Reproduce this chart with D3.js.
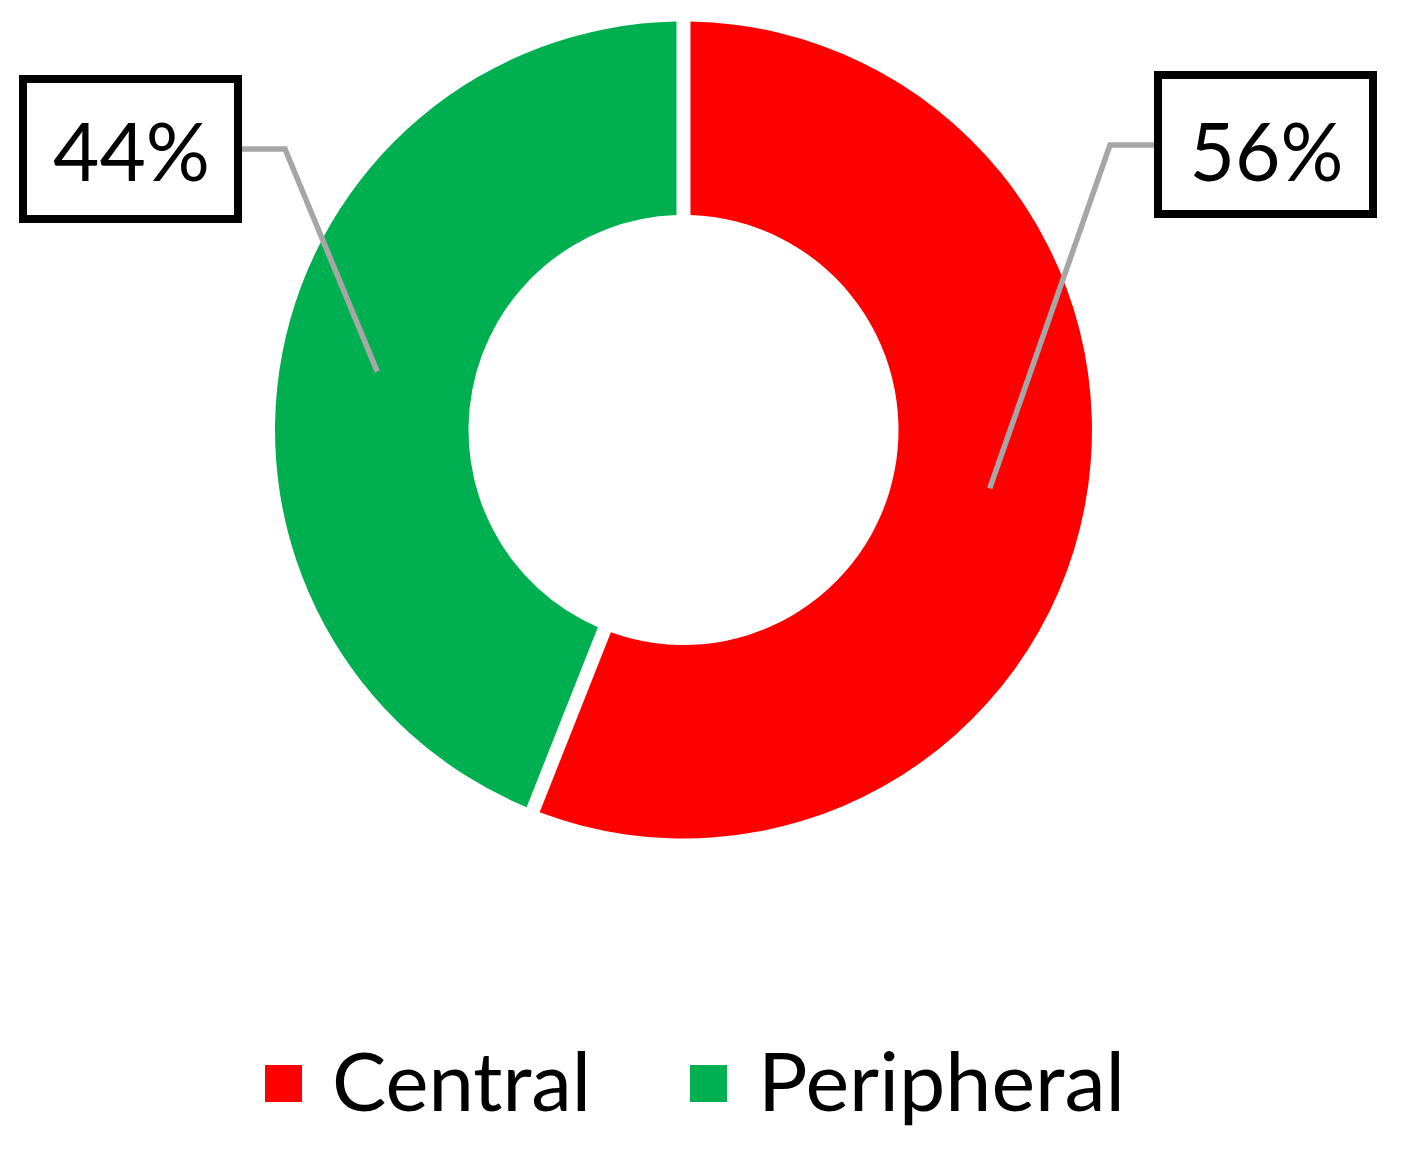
<!DOCTYPE html>
<html>
<head>
<meta charset="utf-8">
<script src="https://cdn.jsdelivr.net/npm/d3@7/dist/d3.min.js"></script>
<style>
  html, body { margin: 0; padding: 0; background: #ffffff; }
  svg { display: block; }
</style>
</head>
<body>
<svg id="chart" width="1407" height="1154"></svg>
<script>
// ---- Data ----
const categories = ["Central", "Peripheral"];
const values = [56, 44];
const valueLabels = ["56%", "44%"];
const colors = ["#FF0000", "#00B050"];

// ---- Layout ----
const W = 1407, H = 1154;
const cx = 683.5, cy = 430;
const outerR = 408.5, innerR = 215;
const gap = 14;
const fontFamily = "Lato, 'Open Sans', 'Liberation Sans', sans-serif";

const svg = d3.select("#chart");
svg.append("rect").attr("width", W).attr("height", H).attr("fill", "#fff");

const pie = d3.pie().sort(null).value(d => d.value)
  .startAngle(0).endAngle(2 * Math.PI);
const data = categories.map((c, i) => ({ name: c, value: values[i], label: valueLabels[i], color: colors[i] }));
const arcs = pie(data);

const arc = d3.arc()
  .innerRadius(innerR)
  .outerRadius(outerR)
  .padRadius(outerR)
  .padAngle(gap / outerR);

const g = svg.append("g").attr("transform", `translate(${cx},${cy})`);
g.selectAll("path.slice")
  .data(arcs)
  .join("path")
  .attr("class", "slice")
  .attr("d", arc)
  .attr("fill", d => d.data.color);

// ---- Data labels with leader lines ----
const boxes = [
  { x0: 1154, y0: 71, x1: 1377, y1: 218, lineY: 145, elbowX: 1110, side: "left", textW: 154 },
  { x0: 19, y0: 75, x1: 242, y1: 223, lineY: 149, elbowX: 285, side: "right", textW: 157 }
];
const sw = 8;
const labelFont = 82;

arcs.forEach((a, i) => {
  const b = boxes[i];
  const [mx, my] = arc.centroid(a);
  const endX = cx + mx, endY = cy + my;
  const startX = b.side === "left" ? b.x0 : b.x1;
  svg.append("path")
    .attr("d", d3.line()([[startX, b.lineY], [b.elbowX, b.lineY], [endX, endY]]))
    .attr("fill", "none")
    .attr("stroke", "#A6A6A6")
    .attr("stroke-width", 5.5)
    .attr("stroke-linejoin", "miter");
  svg.append("rect")
    .attr("x", b.x0 + sw / 2).attr("y", b.y0 + sw / 2)
    .attr("width", b.x1 - b.x0 - sw).attr("height", b.y1 - b.y0 - sw)
    .attr("fill", "#fff")
    .attr("stroke", "#000")
    .attr("stroke-width", sw);
  svg.append("text")
    .attr("x", (b.x0 + b.x1) / 2 + 1)
    .attr("y", 181)
    .attr("text-anchor", "middle")
    .attr("font-family", fontFamily)
    .attr("font-size", labelFont)
    .attr("fill", "#000")
    .attr("textLength", b.textW)
    .attr("lengthAdjust", "spacingAndGlyphs")
    .text(a.data.label);
});

// ---- Legend ----
const legendItems = [
  { sx: 265, tx: 332, tw: 259 },
  { sx: 690, tx: 758, tw: 367 }
];
data.forEach((d, i) => {
  const L = legendItems[i];
  svg.append("rect")
    .attr("x", L.sx).attr("y", 1065)
    .attr("width", 37).attr("height", 37)
    .attr("fill", d.color);
  svg.append("text")
    .attr("x", L.tx).attr("y", 1111)
    .attr("font-family", fontFamily)
    .attr("font-size", 82)
    .attr("fill", "#000")
    .attr("textLength", L.tw)
    .attr("lengthAdjust", "spacingAndGlyphs")
    .text(d.name);
});
</script>
</body>
</html>
